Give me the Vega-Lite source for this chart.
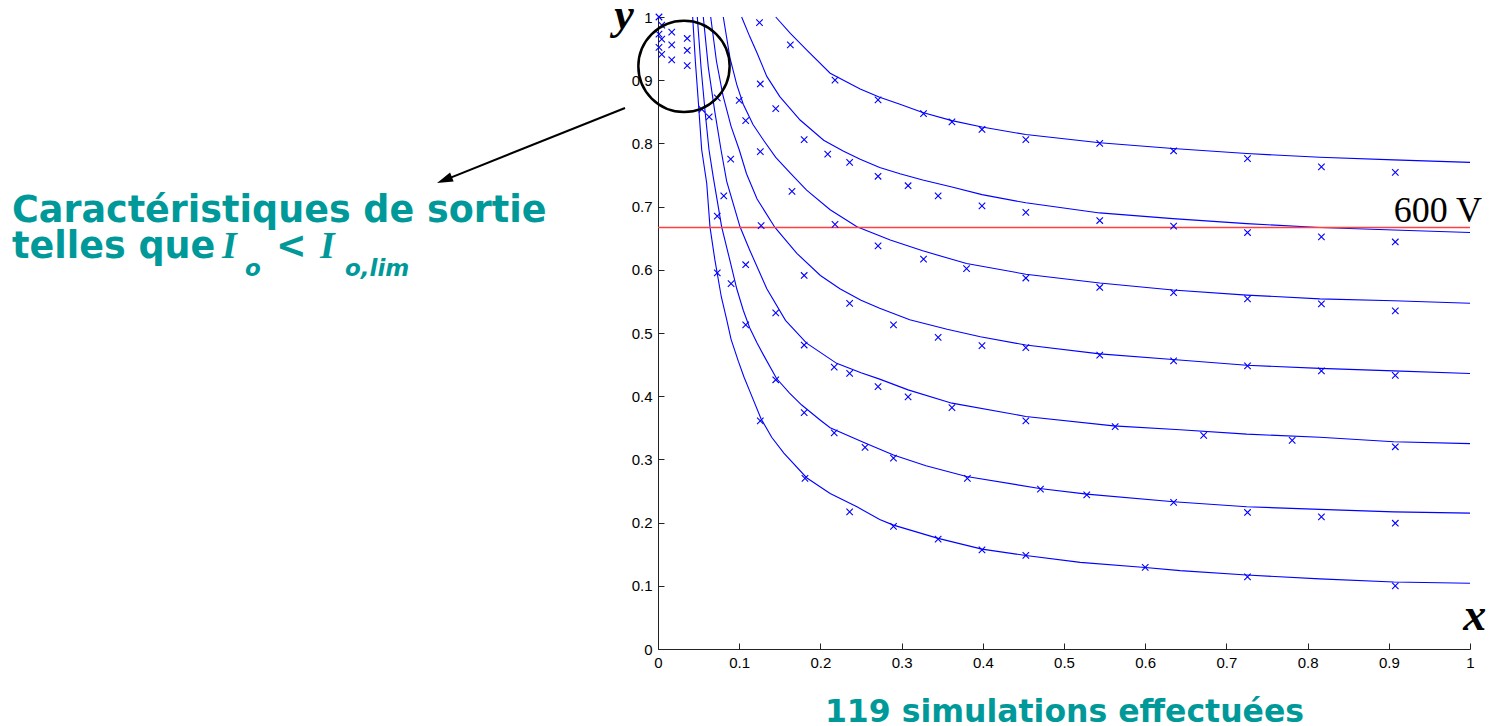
{
  "$schema": "https://vega.github.io/schema/vega-lite/v6.json",
  "width": 812,
  "height": 632,
  "autosize": {"type": "none"},
  "padding": {"left": 658, "top": 17, "right": 22, "bottom": 77},
  "background": "white",
  "config": {
    "view": {"stroke": null},
    "axis": {
      "grid": false,
      "labelFont": "Liberation Sans",
      "labelFontSize": 15,
      "labelColor": "#000000",
      "tickColor": "#222222",
      "domainColor": "#222222",
      "tickSize": -6,
      "labelPadding": 12,
      "labelFlush": false,
      "labelOverlap": false
    }
  },
  "datasets": {
    "curves": [
      {"c":"A","x":0.145,"y":1.0},{"c":"A","x":0.163,"y":0.974},{"c":"A","x":0.183,"y":0.948},{"c":"A","x":0.212,"y":0.911},{"c":"A","x":0.249,"y":0.886},{"c":"A","x":0.273,"y":0.873},{"c":"A","x":0.298,"y":0.862},{"c":"A","x":0.326,"y":0.849},{"c":"A","x":0.362,"y":0.836},{"c":"A","x":0.399,"y":0.826},{"c":"A","x":0.453,"y":0.814},{"c":"A","x":0.544,"y":0.801},{"c":"A","x":0.634,"y":0.792},{"c":"A","x":0.725,"y":0.784},{"c":"A","x":0.815,"y":0.778},{"c":"A","x":0.906,"y":0.774},{"c":"A","x":1.0,"y":0.770},
      {"c":"B","x":0.103,"y":1.0},{"c":"B","x":0.113,"y":0.969},{"c":"B","x":0.122,"y":0.943},{"c":"B","x":0.134,"y":0.906},{"c":"B","x":0.150,"y":0.874},{"c":"B","x":0.175,"y":0.837},{"c":"B","x":0.204,"y":0.805},{"c":"B","x":0.228,"y":0.788},{"c":"B","x":0.249,"y":0.775},{"c":"B","x":0.273,"y":0.762},{"c":"B","x":0.298,"y":0.752},{"c":"B","x":0.326,"y":0.742},{"c":"B","x":0.362,"y":0.731},{"c":"B","x":0.399,"y":0.719},{"c":"B","x":0.453,"y":0.706},{"c":"B","x":0.544,"y":0.690},{"c":"B","x":0.634,"y":0.681},{"c":"B","x":0.725,"y":0.673},{"c":"B","x":0.815,"y":0.667},{"c":"B","x":0.906,"y":0.663},{"c":"B","x":1.0,"y":0.659},
      {"c":"C","x":0.0804,"y":1.0},{"c":"C","x":0.0887,"y":0.935},{"c":"C","x":0.097,"y":0.893},{"c":"C","x":0.105,"y":0.862},{"c":"C","x":0.117,"y":0.830},{"c":"C","x":0.130,"y":0.805},{"c":"C","x":0.145,"y":0.778},{"c":"C","x":0.163,"y":0.753},{"c":"C","x":0.183,"y":0.726},{"c":"C","x":0.212,"y":0.695},{"c":"C","x":0.245,"y":0.668},{"c":"C","x":0.286,"y":0.647},{"c":"C","x":0.326,"y":0.630},{"c":"C","x":0.380,"y":0.610},{"c":"C","x":0.453,"y":0.593},{"c":"C","x":0.544,"y":0.579},{"c":"C","x":0.634,"y":0.568},{"c":"C","x":0.725,"y":0.560},{"c":"C","x":0.815,"y":0.554},{"c":"C","x":0.906,"y":0.551},{"c":"C","x":1.0,"y":0.547},
      {"c":"D","x":0.0649,"y":1.0},{"c":"D","x":0.072,"y":0.93},{"c":"D","x":0.080,"y":0.876},{"c":"D","x":0.090,"y":0.827},{"c":"D","x":0.100,"y":0.790},{"c":"D","x":0.109,"y":0.752},{"c":"D","x":0.122,"y":0.712},{"c":"D","x":0.144,"y":0.667},{"c":"D","x":0.171,"y":0.626},{"c":"D","x":0.200,"y":0.591},{"c":"D","x":0.224,"y":0.570},{"c":"D","x":0.250,"y":0.552},{"c":"D","x":0.273,"y":0.539},{"c":"D","x":0.310,"y":0.521},{"c":"D","x":0.356,"y":0.506},{"c":"D","x":0.397,"y":0.494},{"c":"D","x":0.453,"y":0.481},{"c":"D","x":0.544,"y":0.467},{"c":"D","x":0.634,"y":0.458},{"c":"D","x":0.725,"y":0.449},{"c":"D","x":0.815,"y":0.444},{"c":"D","x":0.906,"y":0.440},{"c":"D","x":1.0,"y":0.436},
      {"c":"E","x":0.0558,"y":1.0},{"c":"E","x":0.062,"y":0.92},{"c":"E","x":0.070,"y":0.85},{"c":"E","x":0.0776,"y":0.790},{"c":"E","x":0.0846,"y":0.740},{"c":"E","x":0.101,"y":0.668},{"c":"E","x":0.113,"y":0.631},{"c":"E","x":0.134,"y":0.570},{"c":"E","x":0.157,"y":0.520},{"c":"E","x":0.183,"y":0.484},{"c":"E","x":0.220,"y":0.452},{"c":"E","x":0.250,"y":0.437},{"c":"E","x":0.273,"y":0.427},{"c":"E","x":0.308,"y":0.410},{"c":"E","x":0.362,"y":0.389},{"c":"E","x":0.453,"y":0.368},{"c":"E","x":0.561,"y":0.353},{"c":"E","x":0.643,"y":0.347},{"c":"E","x":0.725,"y":0.340},{"c":"E","x":0.815,"y":0.335},{"c":"E","x":0.906,"y":0.328},{"c":"E","x":1.0,"y":0.325},
      {"c":"F","x":0.0484,"y":1.0},{"c":"F","x":0.053,"y":0.92},{"c":"F","x":0.058,"y":0.85},{"c":"F","x":0.0628,"y":0.790},{"c":"F","x":0.068,"y":0.747},{"c":"F","x":0.0784,"y":0.668},{"c":"F","x":0.0887,"y":0.614},{"c":"F","x":0.097,"y":0.570},{"c":"F","x":0.105,"y":0.536},{"c":"F","x":0.113,"y":0.508},{"c":"F","x":0.122,"y":0.484},{"c":"F","x":0.130,"y":0.465},{"c":"F","x":0.146,"y":0.428},{"c":"F","x":0.162,"y":0.405},{"c":"F","x":0.177,"y":0.386},{"c":"F","x":0.200,"y":0.362},{"c":"F","x":0.212,"y":0.350},{"c":"F","x":0.255,"y":0.326},{"c":"F","x":0.290,"y":0.307},{"c":"F","x":0.330,"y":0.290},{"c":"F","x":0.380,"y":0.273},{"c":"F","x":0.470,"y":0.254},{"c":"F","x":0.528,"y":0.245},{"c":"F","x":0.635,"y":0.233},{"c":"F","x":0.725,"y":0.225},{"c":"F","x":0.815,"y":0.221},{"c":"F","x":0.906,"y":0.217},{"c":"F","x":1.0,"y":0.215},
      {"c":"G","x":0.0427,"y":1.0},{"c":"G","x":0.046,"y":0.93},{"c":"G","x":0.050,"y":0.86},{"c":"G","x":0.0538,"y":0.790},{"c":"G","x":0.060,"y":0.737},{"c":"G","x":0.064,"y":0.668},{"c":"G","x":0.070,"y":0.616},{"c":"G","x":0.078,"y":0.557},{"c":"G","x":0.0846,"y":0.521},{"c":"G","x":0.090,"y":0.490},{"c":"G","x":0.099,"y":0.455},{"c":"G","x":0.106,"y":0.430},{"c":"G","x":0.113,"y":0.408},{"c":"G","x":0.127,"y":0.364},{"c":"G","x":0.140,"y":0.335},{"c":"G","x":0.155,"y":0.310},{"c":"G","x":0.183,"y":0.271},{"c":"G","x":0.212,"y":0.246},{"c":"G","x":0.245,"y":0.225},{"c":"G","x":0.273,"y":0.205},{"c":"G","x":0.290,"y":0.196},{"c":"G","x":0.345,"y":0.175},{"c":"G","x":0.399,"y":0.158},{"c":"G","x":0.453,"y":0.148},{"c":"G","x":0.520,"y":0.137},{"c":"G","x":0.600,"y":0.129},{"c":"G","x":0.643,"y":0.124},{"c":"G","x":0.725,"y":0.117},{"c":"G","x":0.815,"y":0.111},{"c":"G","x":0.906,"y":0.106},{"c":"G","x":1.0,"y":0.104}
    ],
    "sims": [
      {"x":0.0012,"y":1.0},{"x":0.0046,"y":0.987},{"x":0.0012,"y":0.973},{"x":0.0046,"y":0.965},{"x":0.0169,"y":0.976},{"x":0.036,"y":0.966},{"x":0.0012,"y":0.952},{"x":0.0046,"y":0.941},{"x":0.0169,"y":0.956},{"x":0.036,"y":0.947},{"x":0.0169,"y":0.932},{"x":0.036,"y":0.923},
      {"x":0.125,"y":0.991},{"x":0.163,"y":0.956},{"x":0.218,"y":0.900},{"x":0.126,"y":0.894},{"x":0.073,"y":0.872},{"x":0.100,"y":0.868},{"x":0.054,"y":0.854},{"x":0.063,"y":0.842},{"x":0.145,"y":0.855},{"x":0.108,"y":0.836},{"x":0.180,"y":0.806},{"x":0.126,"y":0.787},{"x":0.209,"y":0.783},{"x":0.236,"y":0.770},{"x":0.0895,"y":0.775},
      {"x":0.271,"y":0.869},{"x":0.271,"y":0.748},{"x":0.081,"y":0.717},{"x":0.073,"y":0.685},{"x":0.127,"y":0.670},{"x":0.218,"y":0.672},{"x":0.271,"y":0.638},{"x":0.165,"y":0.724},{"x":0.108,"y":0.608},{"x":0.073,"y":0.595},{"x":0.090,"y":0.578},{"x":0.180,"y":0.591},{"x":0.145,"y":0.532},{"x":0.236,"y":0.547},{"x":0.108,"y":0.513},{"x":0.290,"y":0.513},
      {"x":0.180,"y":0.481},{"x":0.217,"y":0.446},{"x":0.236,"y":0.436},{"x":0.271,"y":0.415},{"x":0.145,"y":0.426},{"x":0.180,"y":0.374},{"x":0.217,"y":0.342},{"x":0.255,"y":0.319},{"x":0.126,"y":0.361},{"x":0.181,"y":0.270},
      {"x":0.290,"y":0.302},{"x":0.236,"y":0.217},{"x":0.290,"y":0.194},
      {"x":0.327,"y":0.847},{"x":0.362,"y":0.834},{"x":0.399,"y":0.822},{"x":0.453,"y":0.806},{"x":0.544,"y":0.800},{"x":0.635,"y":0.788},{"x":0.308,"y":0.733},{"x":0.345,"y":0.717},{"x":0.399,"y":0.701},{"x":0.453,"y":0.691},{"x":0.544,"y":0.678},{"x":0.635,"y":0.669},{"x":0.327,"y":0.617},{"x":0.380,"y":0.602},{"x":0.453,"y":0.587},{"x":0.544,"y":0.572},{"x":0.635,"y":0.564},
      {"x":0.345,"y":0.493},{"x":0.399,"y":0.480},{"x":0.453,"y":0.477},{"x":0.544,"y":0.465},{"x":0.635,"y":0.456},{"x":0.308,"y":0.399},{"x":0.362,"y":0.382},{"x":0.453,"y":0.361},{"x":0.563,"y":0.352},{"x":0.381,"y":0.270},{"x":0.471,"y":0.253},{"x":0.528,"y":0.244},{"x":0.345,"y":0.174},{"x":0.399,"y":0.157},{"x":0.453,"y":0.148},{"x":0.600,"y":0.129},
      {"x":0.726,"y":0.776},{"x":0.817,"y":0.763},{"x":0.908,"y":0.754},{"x":0.726,"y":0.659},{"x":0.817,"y":0.652},{"x":0.908,"y":0.644},{"x":0.726,"y":0.554},{"x":0.817,"y":0.546},{"x":0.908,"y":0.535},{"x":0.726,"y":0.448},{"x":0.817,"y":0.440},{"x":0.908,"y":0.433},{"x":0.672,"y":0.338},{"x":0.781,"y":0.330},{"x":0.908,"y":0.320},{"x":0.635,"y":0.232},{"x":0.726,"y":0.216},{"x":0.817,"y":0.209},{"x":0.908,"y":0.199},{"x":0.726,"y":0.114},{"x":0.908,"y":0.100}
    ],
    "one": [{}]
  },
  "layer": [
    {
      "data": {"name": "curves"},
      "mark": {"type": "line", "color": "#0000ff", "strokeWidth": 1.1},
      "encoding": {
        "x": {"field": "x", "type": "quantitative", "scale": {"domain": [0, 1], "nice": false, "zero": false},
          "axis": {"values": [0,0.1,0.2,0.3,0.4,0.5,0.6,0.7,0.8,0.9,1], "format": "~g",
            "title": "119 simulations effectuées", "titleColor": "#009999", "titleFont": "DejaVu Sans",
            "titleFontSize": 31.5, "titleFontWeight": "bold", "titlePadding": 26}},
        "y": {"field": "y", "type": "quantitative", "scale": {"domain": [0, 1], "nice": false, "zero": false},
          "axis": {"values": [0,0.1,0.2,0.3,0.4,0.5,0.6,0.7,0.8,0.9,1], "format": "~g", "title": null}},
        "detail": {"field": "c"},
        "order": {"field": "x"}
      }
    },
    {
      "data": {"name": "one"},
      "mark": {"type": "rule", "color": "#ff4040", "strokeWidth": 1.5},
      "encoding": {
        "x": {"datum": 0, "type": "quantitative"},
        "x2": {"datum": 1},
        "y": {"datum": 0.667, "type": "quantitative"}
      }
    },
    {
      "data": {"name": "sims"},
      "mark": {"type": "point", "shape": "M-1,-1L1,1M-1,1L1,-1", "filled": false, "stroke": "#0000ff", "strokeWidth": 1.1, "size": 42, "opacity": 1},
      "encoding": {
        "x": {"field": "x", "type": "quantitative"},
        "y": {"field": "y", "type": "quantitative"}
      }
    },
    {
      "data": {"name": "one"},
      "mark": {"type": "point", "shape": "circle", "filled": false, "stroke": "#000000", "strokeWidth": 2.5, "size": 8330, "opacity": 1},
      "encoding": {
        "x": {"datum": 0.032, "type": "quantitative"},
        "y": {"datum": 0.922, "type": "quantitative"}
      }
    },
    {
      "data": {"name": "one"},
      "mark": {"type": "rule", "color": "#000000", "strokeWidth": 2},
      "encoding": {
        "x": {"datum": -0.0406, "type": "quantitative"},
        "y": {"datum": 0.856, "type": "quantitative"},
        "x2": {"datum": -0.263},
        "y2": {"datum": 0.742}
      }
    },
    {
      "data": {"name": "one"},
      "mark": {"type": "point", "shape": "M0,-1L0.6,1L-0.6,1Z", "filled": true, "color": "#000000", "size": 256, "angle": 248, "opacity": 1},
      "encoding": {
        "x": {"datum": -0.263, "type": "quantitative"},
        "y": {"datum": 0.742, "type": "quantitative"}
      }
    },
    {
      "data": {"name": "one"},
      "mark": {"type": "text", "text": "600 V", "font": "Liberation Serif", "fontSize": 36, "color": "#000000", "align": "right", "baseline": "alphabetic"},
      "encoding": {"x": {"datum": 1.0148, "type": "quantitative"}, "y": {"datum": 0.676, "type": "quantitative"}}
    },
    {
      "data": {"name": "one"},
      "mark": {"type": "text", "text": "y", "font": "Liberation Serif", "fontSize": 44, "fontWeight": "bold", "fontStyle": "italic", "color": "#000000", "align": "center", "baseline": "alphabetic"},
      "encoding": {"x": {"datum": -0.042, "type": "quantitative"}, "y": {"datum": 0.981, "type": "quantitative"}}
    },
    {
      "data": {"name": "one"},
      "mark": {"type": "text", "text": "x", "font": "Liberation Serif", "fontSize": 46, "fontWeight": "bold", "fontStyle": "italic", "color": "#000000", "align": "center", "baseline": "alphabetic"},
      "encoding": {"x": {"datum": 1.006, "type": "quantitative"}, "y": {"datum": 0.030, "type": "quantitative"}}
    },
    {
      "data": {"name": "one"},
      "mark": {"type": "text", "text": "Caractéristiques de sortie", "font": "DejaVu Sans", "fontSize": 36.5, "fontWeight": "bold", "color": "#009999", "align": "left", "baseline": "alphabetic"},
      "encoding": {"x": {"datum": -0.7956, "type": "quantitative"}, "y": {"datum": 0.6756, "type": "quantitative"}}
    },
    {
      "data": {"name": "one"},
      "mark": {"type": "text", "text": "telles que", "font": "DejaVu Sans", "fontSize": 36.5, "fontWeight": "bold", "color": "#009999", "align": "left", "baseline": "alphabetic"},
      "encoding": {"x": {"datum": -0.7956, "type": "quantitative"}, "y": {"datum": 0.6187, "type": "quantitative"}}
    },
    {
      "data": {"name": "one"},
      "mark": {"type": "text", "text": "I", "font": "Liberation Serif", "fontSize": 38, "fontWeight": "bold", "fontStyle": "italic", "color": "#009999", "align": "left", "baseline": "alphabetic"},
      "encoding": {"x": {"datum": -0.5369, "type": "quantitative"}, "y": {"datum": 0.6187, "type": "quantitative"}}
    },
    {
      "data": {"name": "one"},
      "mark": {"type": "text", "text": "o", "font": "DejaVu Sans", "fontSize": 23, "fontWeight": "bold", "fontStyle": "italic", "color": "#009999", "align": "left", "baseline": "alphabetic"},
      "encoding": {"x": {"datum": -0.5086, "type": "quantitative"}, "y": {"datum": 0.590, "type": "quantitative"}}
    },
    {
      "data": {"name": "one"},
      "mark": {"type": "text", "text": "<", "font": "DejaVu Sans", "fontSize": 36.5, "fontWeight": "bold", "color": "#009999", "align": "left", "baseline": "alphabetic"},
      "encoding": {"x": {"datum": -0.4704, "type": "quantitative"}, "y": {"datum": 0.6187, "type": "quantitative"}}
    },
    {
      "data": {"name": "one"},
      "mark": {"type": "text", "text": "I", "font": "Liberation Serif", "fontSize": 38, "fontWeight": "bold", "fontStyle": "italic", "color": "#009999", "align": "left", "baseline": "alphabetic"},
      "encoding": {"x": {"datum": -0.4163, "type": "quantitative"}, "y": {"datum": 0.6187, "type": "quantitative"}}
    },
    {
      "data": {"name": "one"},
      "mark": {"type": "text", "text": "o,lim", "font": "DejaVu Sans", "fontSize": 23, "fontWeight": "bold", "fontStyle": "italic", "color": "#009999", "align": "left", "baseline": "alphabetic"},
      "encoding": {"x": {"datum": -0.3855, "type": "quantitative"}, "y": {"datum": 0.590, "type": "quantitative"}}
    }
  ]
}
